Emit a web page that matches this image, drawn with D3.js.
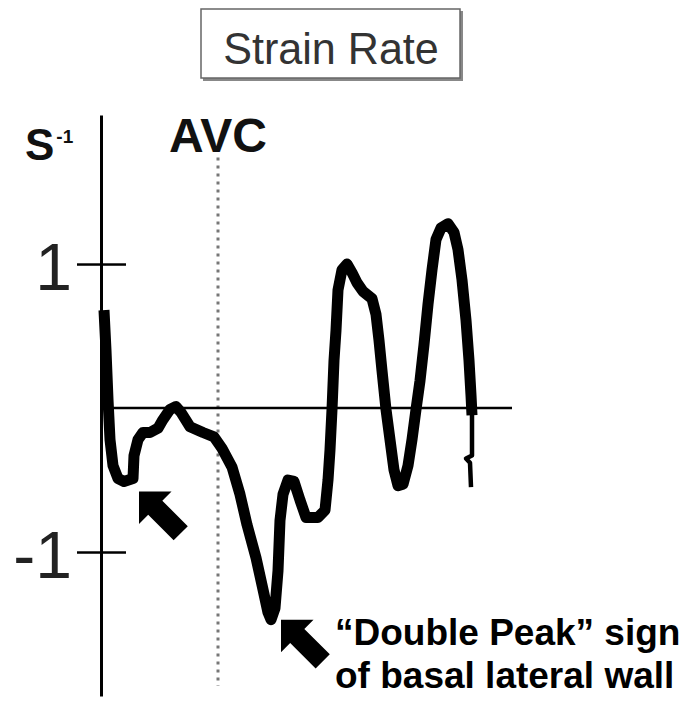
<!DOCTYPE html>
<html><head><meta charset="utf-8">
<script src="https://cdn.jsdelivr.net/npm/d3@7"></script>
<style>body{margin:0;background:#fff}svg{display:block}</style>
</head><body><svg id="c" width="697" height="704"></svg>
<script>
// ---- data ----
const title = "Strain Rate";
const unitLabel = "S";
const unitSup = "-1";
const eventLabel = "AVC";
const avcTime = 232;
const tickValues = [1, -1];
const tickLabels = ["1", "-1"];
const time = [4,8,12,16,22,32,44,62,64,72,82,96,112,122,136,148,158,176,202,224,240,260,276,290,308,322,332,338,346,352,356,362,372,384,396,408,432,446,452,456,460,464,468,472,480,490,500,510,522,540,548,554,560,568,576,584,592,602,612,620,628,636,644,652,660,668,678,692,704,712,720,728,734,738,740];
const strainRate = [0.68,0.40,0.06,-0.22,-0.40,-0.49,-0.51,-0.49,-0.33,-0.22,-0.17,-0.17,-0.14,-0.08,-0.01,0.01,-0.03,-0.13,-0.17,-0.20,-0.28,-0.41,-0.60,-0.81,-1.04,-1.26,-1.42,-1.47,-1.39,-1.13,-0.78,-0.60,-0.50,-0.51,-0.64,-0.76,-0.76,-0.71,-0.50,-0.29,-0.01,0.33,0.54,0.82,0.96,1.00,0.94,0.87,0.81,0.76,0.65,0.47,0.26,-0.01,-0.22,-0.43,-0.54,-0.53,-0.40,-0.22,-0.01,0.19,0.44,0.72,0.96,1.17,1.25,1.28,1.22,1.10,0.89,0.61,0.33,0.09,-0.05];
const tailTime = [740,740,728,736,738];
const tailRate = [-0.01,-0.33,-0.35,-0.38,-0.55];
const arrowTime = [74, 358];
const arrowRate = [-0.58, -1.47];
const annotation = ["\u201CDouble Peak\u201D sign", "of basal lateral wall"];

// ---- drawing ----
const font = "'Liberation Sans', Arial, Helvetica, sans-serif";
const svg = d3.select("#c");
const x = d3.scaleLinear().domain([0, 820]).range([102, 512]);
const y = d3.scaleLinear().domain([-2, 2.035]).range([696, 115]);

// title box
svg.append("rect").attr("x", 203).attr("y", 11).attr("width", 260).attr("height", 70).attr("fill", "#888");
svg.append("rect").attr("x", 201).attr("y", 9).attr("width", 259).attr("height", 69)
  .attr("fill", "#fff").attr("stroke", "#666").attr("stroke-width", 1.5);
svg.append("text").attr("x", 331).attr("y", 64).attr("text-anchor", "middle")
  .attr("font-family", font).attr("font-size", 44).attr("fill", "#333")
  .attr("transform", "translate(331,0) scale(0.98,1) translate(-331,0)")
  .text(title);

// AVC dotted line
svg.append("line").attr("x1", x(avcTime)).attr("x2", x(avcTime))
  .attr("y1", y(1.74)).attr("y2", y(-1.93))
  .attr("stroke", "#777").attr("stroke-width", 3).attr("stroke-dasharray", "3,5");
svg.append("text").attr("x", x(avcTime)).attr("y", y(1.74) - 5).attr("text-anchor", "middle")
  .attr("font-family", font).attr("font-weight", "bold").attr("font-size", 48).attr("fill", "#111")
  .text(eventLabel);

// zero line
svg.append("line").attr("x1", x(0)).attr("x2", x(820)).attr("y1", y(0)).attr("y2", y(0))
  .attr("stroke", "#000").attr("stroke-width", 2.5);

// y axis
const gL = svg.append("g").attr("transform", `translate(${x(0) - 1},0)`)
  .call(d3.axisLeft(y).tickValues(tickValues).tickSize(24).tickSizeOuter(0).tickPadding(5)
    .tickFormat((d, i) => tickLabels[i]));
gL.select(".domain").attr("stroke", "#000").attr("stroke-width", 3);
gL.selectAll(".tick line").attr("stroke", "#000").attr("stroke-width", 2.5);
gL.selectAll(".tick text").attr("font-family", font).attr("font-size", 66).attr("fill", "#222").attr("dy", "0.38em");
const gR = svg.append("g").attr("transform", `translate(${x(0) - 1},0)`)
  .call(d3.axisRight(y).tickValues(tickValues).tickSize(25).tickSizeOuter(0).tickFormat(""));
gR.select(".domain").remove();
gR.selectAll(".tick line").attr("stroke", "#000").attr("stroke-width", 2.5);

// unit label
const ul = svg.append("text").attr("x", x(0) - 77).attr("y", 160)
  .attr("font-family", font).attr("font-weight", "bold").attr("font-size", 44).attr("fill", "#111");
ul.append("tspan").text(unitLabel);
ul.append("tspan").attr("dx", 2).attr("dy", -17).attr("font-size", 19).text(unitSup);

// curve
const line = d3.line().x(d => x(d[0])).y(d => y(d[1]));
svg.append("path").datum(time.map((t, i) => [t, strainRate[i]]))
  .attr("d", line).attr("fill", "none").attr("stroke", "#000")
  .attr("stroke-width", 11).attr("stroke-linejoin", "round").attr("stroke-linecap", "butt");
svg.append("path").datum(tailTime.map((t, i) => [t, tailRate[i]]))
  .attr("d", line).attr("fill", "none").attr("stroke", "#000")
  .attr("stroke-width", 4.5).attr("stroke-linejoin", "round");

// arrows
const arrowShape = [[0,0],[23,-23],[23,-10],[59,-10],[59,10],[23,10],[23,23]];
arrowTime.forEach((t, i) => {
  svg.append("polygon").attr("points", arrowShape.map(p => p.join(",")).join(" "))
    .attr("transform", `translate(${x(t)},${y(arrowRate[i])}) rotate(45)`)
    .attr("fill", "#000");
});

// annotation
annotation.forEach((s, i) => {
  svg.append("text").attr("x", 335).attr("y", 645 + i * 43)
    .attr("font-family", font).attr("font-weight", "bold").attr("font-size", 37).attr("fill", "#000")
    .text(s);
});
</script></body></html>
